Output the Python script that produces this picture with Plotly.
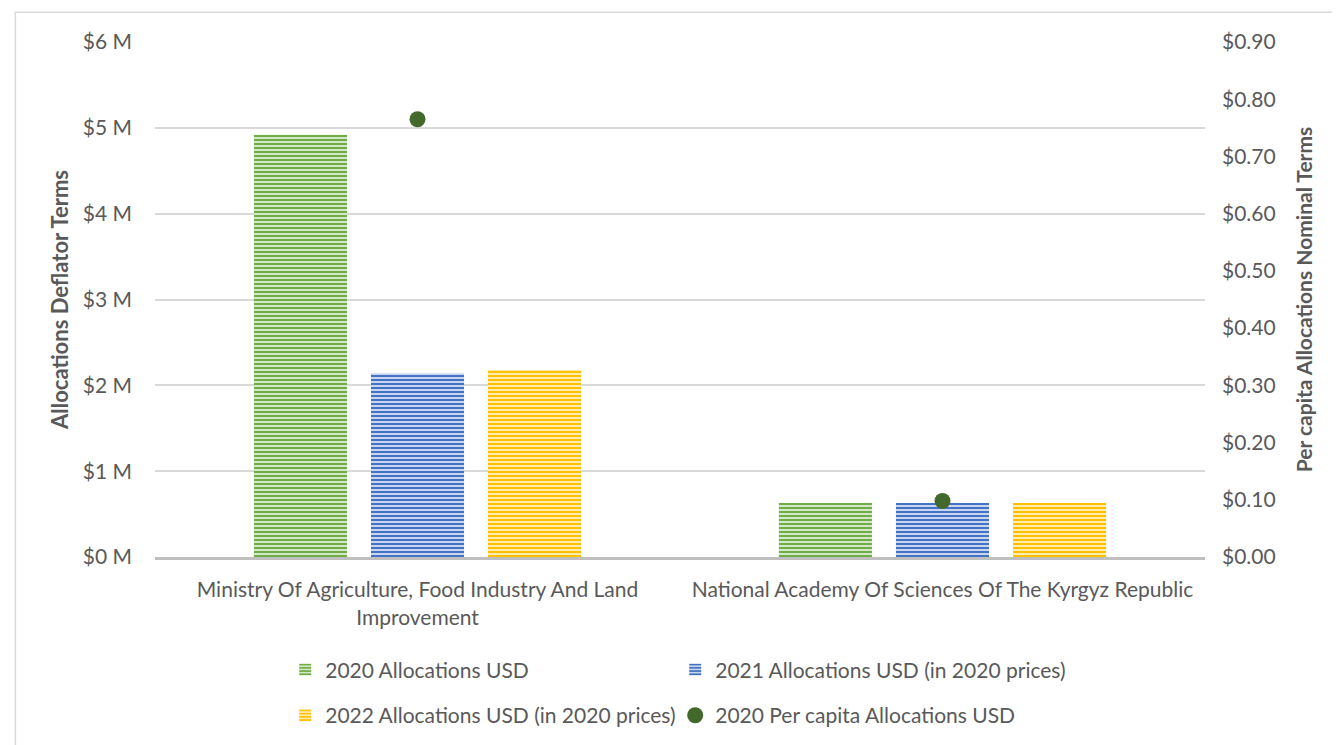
import plotly.graph_objects as go

categories = ["Ministry Of Agriculture, Food Industry And Land<br>Improvement",
              "National Academy Of Sciences Of The Kyrgyz Republic"]
alloc_2020 = [4.92, 0.63]          # $ M
alloc_2021 = [2.14, 0.63]          # $ M (2020 prices)
alloc_2022 = [2.18, 0.63]          # $ M (2020 prices)
per_capita_2020 = [0.765, 0.098]   # $

FONT = "Lato"
TXT = "#595959"

fig = go.Figure()

def bar(name, vals, fg, bg, legend):
    return go.Bar(
        x=categories, y=vals, name=name, legend=legend,
        marker=dict(color=bg, line=dict(width=0),
                    pattern=dict(shape="-", size=4, solidity=0.5,
                                 fgcolor=fg, bgcolor=bg, fillmode="replace")),
        yaxis="y",
    )

fig.add_trace(bar("2020 Allocations USD", alloc_2020, "#70AD47", "#d3e8c6", "legend"))
fig.add_trace(bar("2021 Allocations USD (in 2020 prices)", alloc_2021, "#4472C4", "#c9d6ef", "legend"))
fig.add_trace(bar("2022 Allocations USD (in 2020 prices)", alloc_2022, "#FFC000", "#ffecb0", "legend2"))
fig.add_trace(go.Scatter(
    x=categories, y=per_capita_2020, name="2020 Per capita Allocations USD", legend="legend2",
    mode="markers", marker=dict(color="#43682B", size=16), yaxis="y2",
))

leg_common = dict(orientation="h", xanchor="left", yanchor="middle",
                  entrywidth=345, entrywidthmode="pixels",
                  font=dict(size=21, color=TXT, family=FONT), itemwidth=30,
                  bgcolor="rgba(0,0,0,0)")

fig.update_layout(
    width=1332, height=737,
    paper_bgcolor="white", plot_bgcolor="white",
    margin=dict(l=147, r=135, t=34, b=188, autoexpand=False),
    barmode="group", bargap=0.331, bargroupgap=0.205,
    font=dict(family=FONT, size=21, color=TXT),
    xaxis=dict(showgrid=False, showline=True, linecolor="#bfbfbf", linewidth=3,
               ticks="", tickfont=dict(size=21, color=TXT), ticklabelstandoff=12),
    yaxis=dict(range=[0, 6], dtick=1, tickprefix="$", ticksuffix=" M",
               showgrid=True, gridcolor="#d9d9d9", gridwidth=1.5, zeroline=False,
               ticklabelstandoff=22, tickfont=dict(size=21, color=TXT),
               title=dict(text="<b>Allocations Deflator Terms</b>", font=dict(size=22, color=TXT),
                          standoff=8)),
    yaxis2=dict(range=[0, 0.9], dtick=0.1, tickformat="$.2f", overlaying="y", side="right",
                showgrid=False, zeroline=False, ticklabelstandoff=16,
                tickfont=dict(size=21, color=TXT),
                title=dict(text="<b>Per capita Allocations Nominal Terms</b>", font=dict(size=21, color=TXT),
                           standoff=22)),
    legend=dict(x=0.124, y=-0.219, **leg_common),
    legend2=dict(x=0.124, y=-0.308, **leg_common),
    showlegend=True,
    shapes=[dict(type="rect", xref="paper", yref="paper", x0=-0.133, x1=1.3, y0=-0.6, y1=1.058,
                 line=dict(color="#d9d9d9", width=1.5), fillcolor="rgba(0,0,0,0)", layer="below")],
)

fig.write_html("out.html")
